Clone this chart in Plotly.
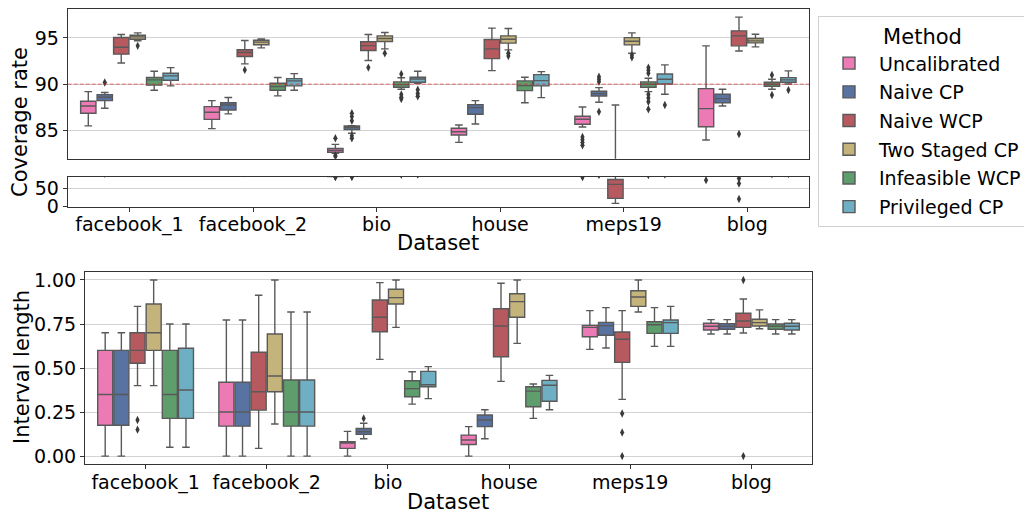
import plotly.graph_objects as go

DATASETS = ["facebook_1", "facebook_2", "bio", "house", "meps19", "blog"]
METHODS = ["Uncalibrated", "Naive CP", "Naive WCP", "Two Staged CP",
           "Infeasible WCP", "Privileged CP"]
COLORS = ["#ec7ab4", "#5872a2", "#b65a60", "#c4b37b", "#5e9e6c", "#6eafc4"]

# coverage rate: [low whisker, q1, median, q3, high whisker] per dataset
COV_UNCALIBRATED = [[85.5, 86.86, 87.65, 88.16, 89.2], [85.2, 86.2, 86.97, 87.58, 88.23],
                    [82.53, 82.64, 82.86, 83.07, 83.5], [83.72, 84.51, 84.87, 85.24, 85.6],
                    [85.38, 85.67, 86.21, 86.54, 87.54], [83.97, 85.41, 87.36, 89.52, 94.15]]
COV_NAIVE_CP = [[87.4, 88.23, 88.6, 88.88, 89.1], [86.8, 87.22, 87.76, 88.0, 88.56],
                [84.7, 85.09, 85.32, 85.49, 85.52], [85.7, 86.75, 87.47, 87.8, 88.23],
                [88.05, 88.73, 88.98, 89.24, 89.63], [87.65, 88.0, 88.44, 88.92, 89.46]]
COV_NAIVE_WCP = [[92.3, 93.25, 94.0, 95.05, 95.37], [92.2, 93.0, 93.43, 93.72, 94.73],
                 [92.56, 93.64, 94.17, 94.6, 95.37], [91.47, 92.77, 93.82, 94.83, 96.06],
                 [9.2, 22.8, 60.9, 74.5, 87.76], [93.6, 94.15, 95.23, 95.77, 97.25]]
COV_TWO_STAGED = [[94.7, 94.87, 95.12, 95.3, 95.55], [93.93, 94.26, 94.55, 94.76, 94.9],
                  [93.82, 94.62, 94.94, 95.23, 95.6], [93.71, 94.44, 94.87, 95.23, 96.02],
                  [93.35, 94.25, 94.65, 95.04, 95.55], [94.04, 94.47, 94.69, 94.94, 95.41]]
COV_INFEASIBLE = [[89.35, 89.9, 90.47, 90.72, 91.4], [88.74, 89.35, 89.75, 90.1, 90.72],
                  [89.46, 89.68, 89.96, 90.25, 90.7], [88.0, 89.31, 89.85, 90.36, 90.76],
                  [89.2, 89.68, 90.0, 90.25, 90.65], [89.46, 89.78, 90.0, 90.22, 90.54]]
COV_PRIVILEGED = [[89.82, 90.43, 90.9, 91.19, 91.8], [89.35, 89.82, 90.36, 90.61, 91.15],
                  [90.1, 90.22, 90.57, 90.76, 91.4], [88.55, 89.82, 90.39, 91.04, 91.36],
                  [88.92, 90.03, 90.54, 91.11, 92.09], [90.03, 90.22, 90.47, 90.71, 91.44]]

# outliers (None = no outlier for that dataset)
COV_FLIERS_UNCALIBRATED = [[None], [None], [84.16, 82.3, 82.2, 81.0], [None],
                           [84.3, 84.0, 83.7, 83.4, 81.0], [72.6]]
COV_FLIERS_NAIVE_CP = [[90.18], [None], [86.86, 86.5, 86.06, 84.44, 84.16, 81.0], [None],
                       [90.82, 90.55, 90.28, 87.03], [None]]
COV_FLIERS_NAIVE_WCP = [[None], [91.55], [91.8], [None], [None], [84.62, 77.2, 63.6, 20.9]]
COV_FLIERS_TWO_STAGED = [[94.15], [None], [93.35], [93.35, 93.05], [93.15, 92.9], [None]]
COV_FLIERS_INFEASIBLE = [[None], [None], [91.1, 88.9, 88.6, 88.4], [None],
                         [91.8, 91.5, 91.2, 88.9, 88.5, 88.1, 87.3], [91.0, 88.84]]
COV_FLIERS_PRIVILEGED = [[None], [None], [89.4, 89.0, 88.7], [None], [87.76], [89.38]]

# interval length: [low whisker, q1, median, q3, high whisker] per dataset
LEN_UNCALIBRATED = [[0.0, 0.175, 0.35, 0.60, 0.70], [0.0, 0.17, 0.25, 0.419, 0.773],
                    [0.0, 0.044, 0.074, 0.081, 0.14], [0.0, 0.066, 0.091, 0.119, 0.167],
                    [0.606, 0.678, 0.731, 0.742, 0.826], [0.693, 0.716, 0.737, 0.754, 0.775]]
LEN_NAIVE_CP = [[0.0, 0.175, 0.35, 0.60, 0.70], [0.0, 0.17, 0.25, 0.419, 0.773],
                [0.098, 0.123, 0.138, 0.157, 0.186], [0.098, 0.167, 0.205, 0.233, 0.263],
                [0.614, 0.686, 0.741, 0.759, 0.843], [0.693, 0.72, 0.737, 0.752, 0.775]]
LEN_NAIVE_WCP = [[0.40, 0.527, 0.60, 0.70, 0.85], [0.044, 0.261, 0.365, 0.59, 0.913],
                 [0.549, 0.706, 0.788, 0.886, 0.985], [0.424, 0.564, 0.739, 0.837, 0.981],
                 [0.322, 0.532, 0.663, 0.705, 0.826], [0.699, 0.731, 0.767, 0.811, 0.892]]
LEN_TWO_STAGED = [[0.40, 0.60, 0.70, 0.864, 1.0], [0.182, 0.365, 0.455, 0.693, 1.0],
                  [0.731, 0.864, 0.90, 0.947, 1.0], [0.64, 0.788, 0.877, 0.922, 1.0],
                  [0.818, 0.85, 0.903, 0.939, 1.0], [0.723, 0.739, 0.758, 0.777, 0.83]]
LEN_INFEASIBLE = [[0.05, 0.214, 0.35, 0.60, 0.75], [0.0, 0.17, 0.25, 0.432, 0.818],
                  [0.295, 0.337, 0.383, 0.428, 0.479], [0.214, 0.28, 0.369, 0.394, 0.409],
                  [0.623, 0.697, 0.746, 0.763, 0.843], [0.693, 0.72, 0.737, 0.75, 0.775]]
LEN_PRIVILEGED = [[0.05, 0.214, 0.375, 0.612, 0.75], [0.0, 0.17, 0.25, 0.432, 0.818],
                  [0.326, 0.394, 0.405, 0.481, 0.508], [0.263, 0.311, 0.402, 0.43, 0.458],
                  [0.623, 0.697, 0.758, 0.773, 0.85], [0.693, 0.716, 0.737, 0.754, 0.775]]

LEN_FLIERS_UNCALIBRATED = [[None]] * 6
LEN_FLIERS_NAIVE_CP = [[None], [None], [0.214], [None], [None], [None]]
LEN_FLIERS_NAIVE_WCP = [[0.205, 0.15], [None], [None], [None], [0.242, 0.134, 0.0], [1.0, 0.0]]
LEN_FLIERS_TWO_STAGED = [[None]] * 6
LEN_FLIERS_INFEASIBLE = [[None]] * 6
LEN_FLIERS_PRIVILEGED = [[None]] * 6

COV_STATS = [COV_UNCALIBRATED, COV_NAIVE_CP, COV_NAIVE_WCP, COV_TWO_STAGED,
             COV_INFEASIBLE, COV_PRIVILEGED]
COV_FLIERS = [COV_FLIERS_UNCALIBRATED, COV_FLIERS_NAIVE_CP, COV_FLIERS_NAIVE_WCP,
              COV_FLIERS_TWO_STAGED, COV_FLIERS_INFEASIBLE, COV_FLIERS_PRIVILEGED]
LEN_STATS = [LEN_UNCALIBRATED, LEN_NAIVE_CP, LEN_NAIVE_WCP, LEN_TWO_STAGED,
             LEN_INFEASIBLE, LEN_PRIVILEGED]
LEN_FLIERS = [LEN_FLIERS_UNCALIBRATED, LEN_FLIERS_NAIVE_CP, LEN_FLIERS_NAIVE_WCP,
              LEN_FLIERS_TWO_STAGED, LEN_FLIERS_INFEASIBLE, LEN_FLIERS_PRIVILEGED]

EDGE = "#595959"
AXIS = "#333333"
GRID = "#d3d3d3"
FONT = "DejaVu Sans"

W, H = 1032, 514
PAGE_PAD = 8  # the html body margin shifts the figure by this much


def fx(p):
    return (p - PAGE_PAD) / W


def fy(p):
    return 1 - (p - PAGE_PAD) / H


def add_boxes(fig, stats, fliers, name, color, xa, ya, legend):
    fig.add_trace(go.Box(
        x=DATASETS, y=fliers,
        lowerfence=[s[0] for s in stats], q1=[s[1] for s in stats],
        median=[s[2] for s in stats], q3=[s[3] for s in stats],
        upperfence=[s[4] for s in stats],
        orientation="v", name=name, legendgroup=name, showlegend=legend,
        offsetgroup=name, alignmentgroup=xa,
        fillcolor=color, line=dict(color=EDGE, width=1.4),
        marker=dict(symbol="diamond-tall", size=6, color="#3a3a3a"),
        boxpoints="outliers", jitter=0, pointpos=0,
        xaxis=xa, yaxis=ya, hoverinfo="skip"))


fig = go.Figure()
for i, m in enumerate(METHODS):
    add_boxes(fig, COV_STATS[i], COV_FLIERS[i], m, COLORS[i], "x", "y", True)
for i, m in enumerate(METHODS):
    add_boxes(fig, COV_STATS[i], COV_FLIERS[i], m, COLORS[i], "x2", "y2", False)
for i, m in enumerate(METHODS):
    add_boxes(fig, LEN_STATS[i], LEN_FLIERS[i], m, COLORS[i], "x3", "y3", False)

top_x = [fx(67.7), fx(809)]
bot_x = [fx(85), fx(812)]

cat_axis = dict(type="category", categoryorder="array", categoryarray=DATASETS,
                range=[-0.5, 5.5], showline=True, linecolor=AXIS, linewidth=1,
                mirror=True, showgrid=False, zeroline=False, automargin=False,
                tickfont=dict(size=19, color="black"))
val_axis = dict(showline=True, linecolor=AXIS, linewidth=1, mirror=True,
                showgrid=True, gridcolor=GRID, gridwidth=1, zeroline=False,
                ticks="outside", ticklen=4, tickcolor=AXIS, automargin=False,
                tickfont=dict(size=19, color="black"))

fig.update_layout(
    width=W, height=H, margin=dict(l=0, r=0, t=0, b=0, pad=0),
    paper_bgcolor="white", plot_bgcolor="white",
    font=dict(family=FONT, size=19, color="black"),
    boxmode="group", boxgap=0.2, boxgroupgap=0.07,
    xaxis=dict(cat_axis, domain=top_x, anchor="y", showticklabels=False, ticks=""),
    yaxis=dict(val_axis, domain=[fy(158.7), fy(9.3)], anchor="x",
               range=[81.95, 98.1], tickvals=[85, 90, 95]),
    xaxis2=dict(cat_axis, domain=top_x, anchor="y2", ticks="outside", ticklen=4,
                tickcolor=AXIS, ticklabelstandoff=-4),
    yaxis2=dict(val_axis, domain=[fy(206.7), fy(176.7)], anchor="x2",
                range=[0, 82], tickvals=[0, 50]),
    xaxis3=dict(cat_axis, domain=bot_x, anchor="y3", ticks="outside", ticklen=4,
                tickcolor=AXIS, ticklabelstandoff=-3),
    yaxis3=dict(val_axis, domain=[fy(464), fy(271.7)], anchor="x3",
                range=[-0.045, 1.047], tickvals=[0, 0.25, 0.5, 0.75, 1.0],
                ticktext=["0.00", "0.25", "0.50", "0.75", "1.00"]),
    legend=dict(x=fx(818), y=fy(16), xanchor="left", yanchor="top",
                bgcolor="white", bordercolor="#d0d0d0", borderwidth=1,
                font=dict(size=19), tracegroupgap=1, traceorder="grouped",
                itemwidth=50,
                title=dict(text="Method", side="top center", font=dict(size=21))),
    showlegend=True,
)

# target coverage line
fig.add_shape(type="line", xref="x domain", yref="y", x0=0, x1=1, y0=90, y1=90,
              line=dict(color="rgba(214,39,40,0.45)", width=1.3, dash="4px,2px"))

titles = [("Coverage rate", 20, 122, -90), ("Dataset", 438, 243, 0),
          ("Interval length", 22, 367, -90), ("Dataset", 448, 502, 0)]
for text, px, py, ang in titles:
    fig.add_annotation(text=text, xref="paper", yref="paper", x=fx(px), y=fy(py),
                       xanchor="center", yanchor="middle", textangle=ang,
                       showarrow=False, font=dict(size=21))

fig.write_html("out.html")
